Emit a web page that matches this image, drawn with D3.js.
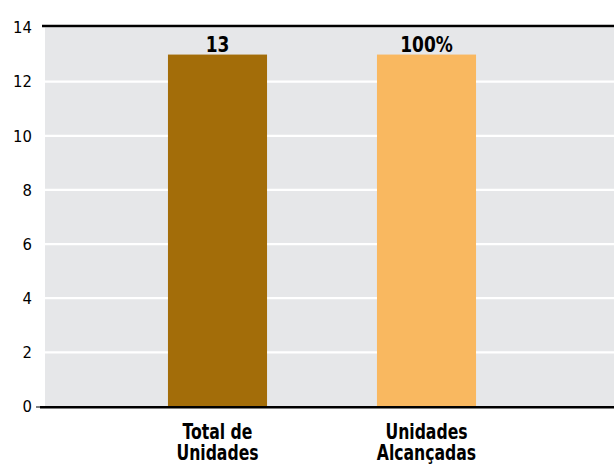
<!DOCTYPE html>
<html>
<head>
<meta charset="utf-8">
<script src="https://cdn.jsdelivr.net/npm/d3@7/dist/d3.min.js"></script>
<style>
  html, body { margin: 0; padding: 0; background: #fff; }
  svg { display: block; }
  text { font-family: "DejaVu Sans Condensed", "DejaVu Sans", sans-serif; font-stretch: condensed; }
</style>
</head>
<body>
<svg id="chart" width="614" height="467"></svg>
<script>
const categories = ["Total de Unidades", "Unidades Alcançadas"];
const categoryLines = [["Total de", "Unidades"], ["Unidades", "Alcançadas"]];
const values = [13, 13];
const valueLabels = ["13", "100%"];
const barColors = ["#a36d09", "#f9b860"];
const yTicks = [0, 2, 4, 6, 8, 10, 12, 14];

const svg = d3.select("#chart");
const W = 614;
const plotLeft = 45, plotRight = 614;
const FONT = "'DejaVu Sans Condensed', 'DejaVu Sans', sans-serif";

const y = d3.scaleLinear().domain([0, 14]).range([406.5, 27.5]);
const x = d3.scaleBand().domain(categories).range([113, 531])
  .paddingInner(0.526).paddingOuter(0.263);

// background
svg.append("rect")
  .attr("x", plotLeft).attr("y", y(14))
  .attr("width", plotRight - plotLeft).attr("height", y(0) - y(14))
  .attr("fill", "#e6e7e9");

// gridlines
svg.append("g").selectAll("line")
  .data(yTicks.filter(d => d > 0 && d < 14))
  .join("line")
  .attr("x1", plotLeft).attr("x2", plotRight)
  .attr("y1", d => y(d)).attr("y2", d => y(d))
  .attr("stroke", "#ffffff").attr("stroke-width", 2.2);

// bars
svg.append("g").selectAll("rect")
  .data(categories)
  .join("rect")
  .attr("x", d => x(d))
  .attr("width", x.bandwidth())
  .attr("y", (d, i) => y(values[i]))
  .attr("height", (d, i) => y(0) - y(values[i]))
  .attr("fill", (d, i) => barColors[i]);

// value labels
svg.append("g").selectAll("text")
  .data(categories)
  .join("text")
  .attr("transform", (d, i) => `translate(${x(d) + x.bandwidth() / 2},${y(values[i]) - 3}) scale(0.88,1)`)
  .attr("text-anchor", "middle")
  .attr("font-weight", "bold")
  .attr("font-size", 21.5)
  .attr("fill", "#000")
  .text((d, i) => valueLabels[i]);

// top border line
svg.append("line")
  .attr("x1", 42).attr("x2", W)
  .attr("y1", y(14) - 1.5).attr("y2", y(14) - 1.5)
  .attr("stroke", "#000").attr("stroke-width", 2.5);

// bottom axis line
svg.append("line")
  .attr("x1", 40).attr("x2", W)
  .attr("y1", y(0) + 0.8).attr("y2", y(0) + 0.8)
  .attr("stroke", "#000").attr("stroke-width", 2.5);

// y axis
const yAxis = d3.axisLeft(y).tickValues(yTicks).tickSize(0).tickPadding(0);
const gy = svg.append("g").attr("transform", "translate(32,0)").call(yAxis);
gy.attr("font-family", FONT);
gy.select(".domain").remove();
gy.selectAll("text")
  .attr("font-size", 16.5)
  .attr("fill", "#000");
// small tick at zero
svg.append("line")
  .attr("x1", 36).attr("x2", 44)
  .attr("y1", y(0) + 0.5).attr("y2", y(0) + 0.5)
  .attr("stroke", "#000").attr("stroke-width", 1);

// x labels
const xl = svg.append("g").selectAll("text")
  .data(categories)
  .join("text")
  .attr("transform", d => `translate(${x(d) + x.bandwidth() / 2},${y(0)}) scale(0.81,1)`)
  .attr("text-anchor", "middle")
  .attr("font-weight", "bold")
  .attr("font-size", 21.5)
  .attr("fill", "#000");
xl.each(function(d, i) {
  const t = d3.select(this);
  categoryLines[i].forEach((line, j) => {
    t.append("tspan")
      .attr("x", 0)
      .attr("y", 32.5 + j * 21.5)
      .text(line);
  });
});
</script>
</body>
</html>
